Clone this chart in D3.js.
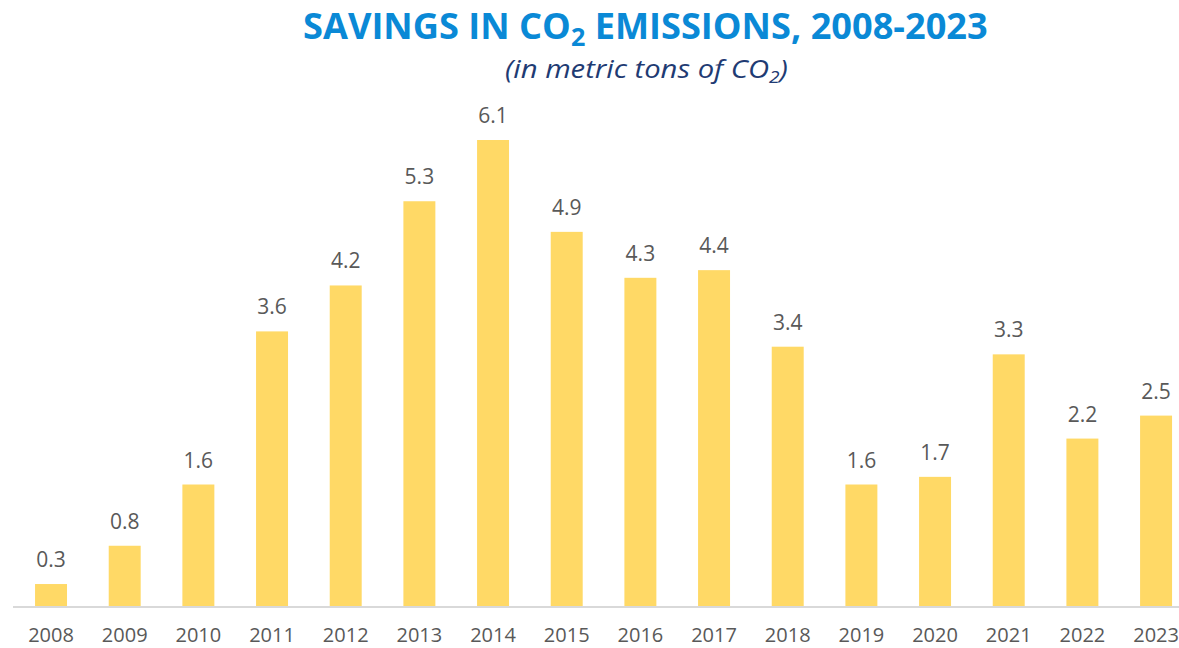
<!DOCTYPE html>
<html>
<head>
<meta charset="utf-8">
<script src="https://cdn.jsdelivr.net/npm/d3@7"></script>
<style>
  body { margin: 0; background: #fff; }
  svg { display: block; }
</style>
</head>
<body>
<div id="chart"></div>
<script>
// data
var years = ["2008", "2009", "2010", "2011", "2012", "2013", "2014", "2015",
             "2016", "2017", "2018", "2019", "2020", "2021", "2022", "2023"];
var savings = [0.3, 0.8, 1.6, 3.6, 4.2, 5.3, 6.1, 4.9, 4.3, 4.4, 3.4, 1.6, 1.7, 3.3, 2.2, 2.5];

var W = 1179, H = 648;
var baseY = 607;

var svg = d3.select("#chart").append("svg")
    .attr("width", W)
    .attr("height", H);

// scales
var x = d3.scaleBand()
    .domain(years)
    .range([14.2, 1192.9])
    .paddingInner(0.566)
    .paddingOuter(0.283);
var y = d3.scaleLinear()
    .domain([0, 6.1])
    .range([baseY, 140]);

var data = years.map(function (d, i) { return { year: d, value: savings[i] }; });

// bars
svg.selectAll(".bar")
    .data(data)
    .enter().append("rect")
    .attr("class", "bar")
    .attr("x", function (d) { return x(d.year); })
    .attr("width", x.bandwidth())
    .attr("y", function (d) { return y(d.value); })
    .attr("height", function (d) { return baseY - y(d.value); })
    .attr("fill", "#ffd966");

// value labels
svg.selectAll(".lbl")
    .data(data)
    .enter().append("text")
    .attr("class", "lbl")
    .attr("x", function (d) { return x(d.year) + x.bandwidth() / 2; })
    .attr("y", function (d) { return y(d.value) - 17; })
    .attr("text-anchor", "middle")
    .attr("font-family", "Open Sans, sans-serif")
    .attr("font-size", 21)
    .attr("fill", "#595959")
    .text(function (d) { return d.value.toFixed(1); });

// x axis
var xAxis = svg.append("g")
    .attr("transform", "translate(0," + baseY + ")")
    .call(d3.axisBottom(x).tickSize(0).tickPadding(35));
xAxis.select(".domain").remove();
xAxis.append("line")
    .attr("x1", 13).attr("x2", W)
    .attr("y1", 0).attr("y2", 0)
    .attr("stroke", "#d9d9d9")
    .attr("stroke-width", 2);
xAxis.selectAll("text")
    .attr("font-family", "Open Sans, sans-serif")
    .attr("font-size", 20)
    .attr("fill", "#595959")
    .attr("dy", 0);

// title
var title = svg.append("text")
    .attr("x", 0)
    .attr("y", 39)
    .attr("font-family", "Open Sans, sans-serif")
    .attr("font-weight", "bold")
    .attr("font-size", 36)
    .attr("fill", "#0a89d6");
title.append("tspan").text("SAVINGS IN CO");
title.append("tspan").attr("font-size", 25).attr("dy", 7).text("2");
title.append("tspan").attr("dy", -7).text(" EMISSIONS, 2008-2023");
var tw = title.node().getComputedTextLength();
title.attr("transform", "translate(303,0) scale(" + (685 / tw) + ",1)");

// subtitle
var sub = svg.append("text")
    .attr("x", 0)
    .attr("y", 78)
    .attr("font-family", "Open Sans, sans-serif")
    .attr("font-style", "italic")
    .attr("font-size", 26)
    .attr("fill", "#1f3b73");
sub.append("tspan").text("(in metric tons of CO");
sub.append("tspan").attr("font-size", 17).attr("dy", 5).text("2");
sub.append("tspan").attr("dy", -5).text(")");
var sw = sub.node().getComputedTextLength();
sub.attr("transform", "translate(505,0) scale(" + (283 / sw) + ",1)");
</script>
</body>
</html>
